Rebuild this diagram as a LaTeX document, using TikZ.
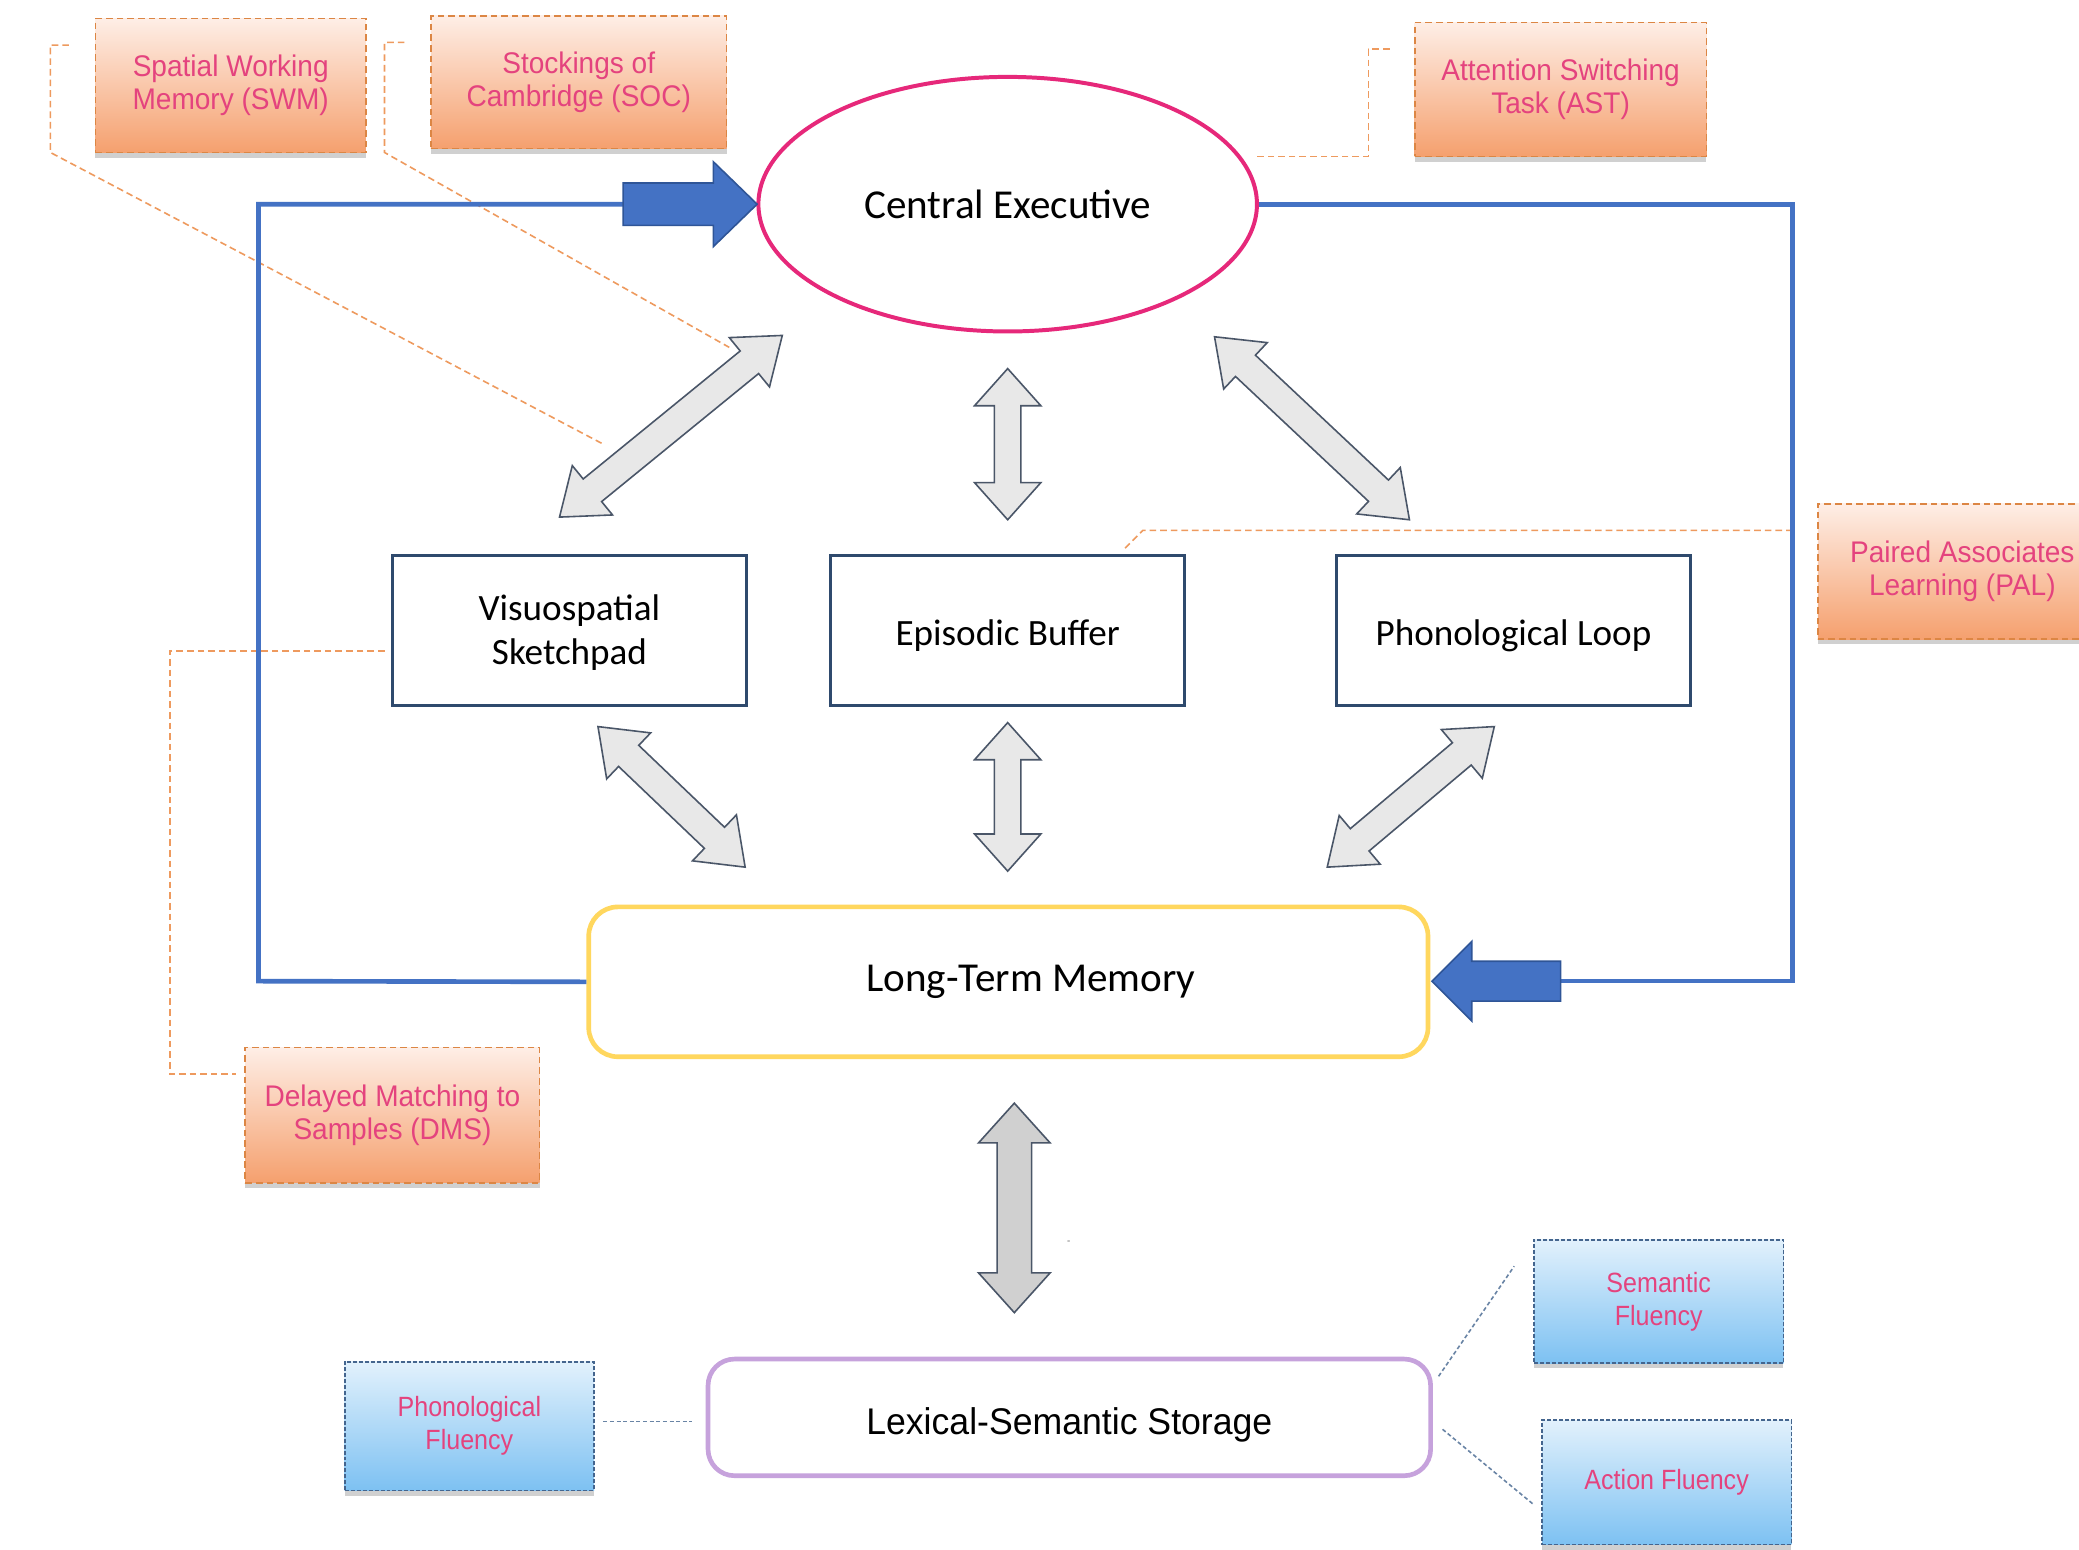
\documentclass[tikz,border=0pt]{standalone}
\usepackage{fontspec}
\setmainfont{Carlito}
\newfontfamily\orfont[FakeStretch=0.94]{Liberation Sans}
\newfontfamily\blfont[FakeStretch=0.9]{Liberation Sans}
\newfontfamily\lsfont[FakeStretch=0.96]{Liberation Sans}
\usetikzlibrary{shapes.geometric,shadows,calc}

\definecolor{orTop}{HTML}{FEEEE6}
\definecolor{orMid}{HTML}{FBD6C1}
\definecolor{orBot}{HTML}{F5A06E}
\definecolor{orLine}{HTML}{DC8644}
\definecolor{leadOr}{HTML}{EE9A5E}
\definecolor{pinkTxt}{HTML}{E4437E}
\definecolor{blTop}{HTML}{E2F1FC}
\definecolor{blMid}{HTML}{BFE0F8}
\definecolor{blBot}{HTML}{7DC1F2}
\definecolor{blLine}{HTML}{44658E}
\definecolor{loopBlue}{HTML}{4472C4}
\definecolor{arrBlueLine}{HTML}{2F5597}
\definecolor{ceMag}{HTML}{E6287A}
\definecolor{boxNavy}{HTML}{2F4A6D}
\definecolor{ltmYellow}{HTML}{FFD75E}
\definecolor{lssPurple}{HTML}{C6A2DC}
\definecolor{grayFill}{HTML}{E8E8E8}
\definecolor{grayLine}{HTML}{4A5668}
\definecolor{grayFillB}{HTML}{D0D0D0}

% double block arrow: style, from, to, half shaft, half head, head length
\newcommand{\dblarr}[6]{%
\draw[#1] let \p1=(#2), \p2=(#3), \n1={atan2(\y2-\y1,\x2-\x1)} in
 (#2) -- ($(#2)+(\n1:#6)+(\n1+90:#5)$) -- ($(#2)+(\n1:#6)+(\n1+90:#4)$)
 -- ($(#3)+(\n1+180:#6)+(\n1+90:#4)$) -- ($(#3)+(\n1+180:#6)+(\n1+90:#5)$)
 -- (#3) -- ($(#3)+(\n1+180:#6)+(\n1-90:#5)$) -- ($(#3)+(\n1+180:#6)+(\n1-90:#4)$)
 -- ($(#2)+(\n1:#6)+(\n1-90:#4)$) -- ($(#2)+(\n1:#6)+(\n1-90:#5)$) -- cycle;}
% single block arrow: style, tail, tip, half shaft, half head, head length
\newcommand{\sglarr}[6]{%
\draw[#1] let \p1=(#2), \p2=(#3), \n1={atan2(\y2-\y1,\x2-\x1)} in
 ($(#2)+(\n1+90:#4)$) -- ($(#3)+(\n1+180:#6)+(\n1+90:#4)$) -- ($(#3)+(\n1+180:#6)+(\n1+90:#5)$)
 -- (#3) -- ($(#3)+(\n1+180:#6)+(\n1-90:#5)$) -- ($(#3)+(\n1+180:#6)+(\n1-90:#4)$)
 -- ($(#2)+(\n1-90:#4)$) -- cycle;}

\begin{document}
\begin{tikzpicture}[x=1pt,y=-1pt,
  orbox/.style={draw=orLine, dash pattern=on 5pt off 3pt, line width=1.2pt,
    top color=orTop, middle color=orMid, bottom color=orBot,
    drop shadow={shadow xshift=0pt, shadow yshift=-4pt, opacity=0.3, fill=black!60},
    text=pinkTxt, font=\orfont\fontsize{22.5}{25}\selectfont, align=center, inner sep=0pt},
  blbox/.style={draw=blLine, dash pattern=on 3pt off 1.5pt, line width=1.2pt,
    top color=blTop, middle color=blMid, bottom color=blBot,
    drop shadow={shadow xshift=0pt, shadow yshift=-4pt, opacity=0.3, fill=black!60},
    text=pinkTxt, font=\blfont\fontsize{21}{25}\selectfont, align=center, inner sep=0pt},
  wmbox/.style={draw=boxNavy, line width=2pt, fill=white, minimum width=267pt,
    minimum height=113pt, align=center, font=\fontsize{28}{33}\selectfont, inner sep=0pt},
  leader/.style={draw=leadOr, line width=1.2pt, dash pattern=on 5pt off 3pt},
  bleader/.style={draw=blLine!80, line width=1.2pt, dash pattern=on 3pt off 2pt},
  grayarr/.style={fill=grayFill, draw=grayLine, line width=1.2pt, line join=miter},
  grayarrB/.style={fill=grayFillB, draw=grayLine, line width=1.2pt, line join=miter},
  bluearr/.style={fill=loopBlue, draw=arrBlueLine, line width=1.2pt, line join=miter},
  loopline/.style={draw=loopBlue, line width=3.5pt, line join=miter}]

\useasboundingbox (0,0) rectangle (1568,1169);
\clip (0,0) rectangle (1568,1169);
\fill[white] (0,0) rectangle (1568,1169);

% ---------- leader line coordinates ----------
\coordinate (s1) at (52,34);   \coordinate (s2) at (38,34);   \coordinate (s3) at (38,115);  \coordinate (s4) at (455,335);
\coordinate (c1) at (305,32);  \coordinate (c2) at (290,32);  \coordinate (c3) at (290,115); \coordinate (c4) at (550,262);
\coordinate (t1) at (1048,37); \coordinate (t2) at (1032,37); \coordinate (t3) at (1032,118); \coordinate (t4) at (948,118);
\coordinate (p1) at (1352,400); \coordinate (p2) at (862,400); \coordinate (p3) at (848,414);
\coordinate (d1) at (290,491); \coordinate (d2) at (128,491); \coordinate (d3) at (128,810); \coordinate (d4) at (178,810);
\coordinate (f1) at (455,1072); \coordinate (f2) at (522,1072);
\coordinate (g1) at (1085,1038); \coordinate (g2) at (1142,955);
\coordinate (h1) at (1088,1078); \coordinate (h2) at (1157,1135);

\draw[leader] (s1) -- (s2) -- (s3) -- (s4);
\draw[leader] (c1) -- (c2) -- (c3) -- (c4);
\draw[leader] (t1) -- (t2) -- (t3) -- (t4);
\draw[leader] (p1) -- (p2) -- (p3);
\draw[leader] (d1) -- (d2) -- (d3) -- (d4);

% ---------- main nodes ----------
\node[ellipse, draw=ceMag, line width=3pt, minimum width=376pt, minimum height=192pt,
  fill=white, font=\fontsize{31}{36}\selectfont] (ce) at (760,154) {Central Executive};
\node[wmbox, text height=58pt, text depth=7pt] (vs) at (429.5,475.5) {Visuospatial\\Sketchpad};
\node[wmbox, text height=25pt, text depth=2pt] (eb) at (760,475.5) {Episodic Buffer};
\node[wmbox, text height=25pt, text depth=2pt] (pl) at (1141.5,475.5) {Phonological Loop};
\node[draw=ltmYellow, line width=3.5pt, rounded corners=22pt, minimum width=633pt,
  minimum height=113pt, fill=white, font=\fontsize{31}{36}\selectfont] (ltm) at (760.5,740.5)
  {\hspace*{34pt}Long-Term Memory};
\node[draw=lssPurple, line width=3.5pt, rounded corners=20pt, minimum width=545pt,
  minimum height=88pt, fill=white, font=\lsfont\fontsize{28}{33}\selectfont,
  text height=32pt, text depth=6pt] (lss) at (806.5,1069)
  {Lexical-Semantic Storage};

% ---------- blue loop ----------
\coordinate (ra) at (1352,154); \coordinate (rb) at (1352,740);
\coordinate (rt) at (1177,740); \coordinate (rtip) at (1080,740);
\coordinate (lb) at (195,740);  \coordinate (la) at (195,154);
\coordinate (tt) at (470,154);  \coordinate (ttip) at (571,154);
\draw[loopline] (ce.east) -- (ra) -- (rb) -- (rt);
\draw[loopline] (ltm.west) -- (lb) -- (la) -- (tt);
\sglarr{bluearr}{tt}{ttip}{16pt}{32pt}{33pt}
\sglarr{bluearr}{rt}{rtip}{15pt}{30pt}{30pt}

% ---------- test boxes ----------
\node[orbox, minimum width=204pt, minimum height=101pt] (swm) at (174,64.5) {Spatial Working\\Memory (SWM)};
\node[orbox, minimum width=223pt, minimum height=100pt] (soc) at (436.5,62) {Stockings of\\Cambridge (SOC)};
\node[orbox, minimum width=220pt, minimum height=101pt] (ast) at (1177,67.5) {Attention Switching\\Task (AST)};
\node[orbox, minimum width=218pt, minimum height=102pt] (pal) at (1480,431) {Paired Associates\\Learning (PAL)};
\node[orbox, minimum width=222pt, minimum height=102pt] (dms) at (296,841) {Delayed Matching to\\Samples (DMS)};

\node[blbox, minimum width=188pt, minimum height=97pt] (pf) at (354,1075.5) {Phonological\\Fluency};
\node[blbox, minimum width=188pt, minimum height=93pt] (sf) at (1251,981.5) {Semantic\\Fluency};
\node[blbox, minimum width=188pt, minimum height=94pt] (af) at (1257,1118) {Action Fluency};

\draw[bleader] (f1) -- (f2);
\draw[bleader] (g1) -- (g2);
\draw[bleader] (h1) -- (h2);

% ---------- gray double arrows ----------
\coordinate (a1s) at (422,390);  \coordinate (a1e) at (590,253);
\coordinate (a2s) at (760,278);  \coordinate (a2e) at (760,392);
\coordinate (a3s) at (916,254);  \coordinate (a3e) at (1063,392);
\coordinate (a4s) at (451,548);  \coordinate (a4e) at (562,654);
\coordinate (a5s) at (760,545);  \coordinate (a5e) at (760,657);
\coordinate (a6s) at (1001,654); \coordinate (a6e) at (1127,548);
\coordinate (a7s) at (765,832);  \coordinate (a7e) at (765,990);
\dblarr{grayarr}{a1s}{a1e}{11pt}{24pt}{32pt}
\dblarr{grayarr}{a2s}{a2e}{10pt}{25pt}{28pt}
\dblarr{grayarr}{a3s}{a3e}{11pt}{24pt}{32pt}
\dblarr{grayarr}{a4s}{a4e}{11pt}{24pt}{32pt}
\dblarr{grayarr}{a5s}{a5e}{10pt}{25pt}{28pt}
\dblarr{grayarr}{a6s}{a6e}{11pt}{24pt}{32pt}
\dblarr{grayarrB}{a7s}{a7e}{13pt}{27pt}{30pt}

\node[font=\fontsize{8}{8}\selectfont, text=black!60, inner sep=0pt] (dot) at (806,937) {-};
\end{tikzpicture}
\end{document}
